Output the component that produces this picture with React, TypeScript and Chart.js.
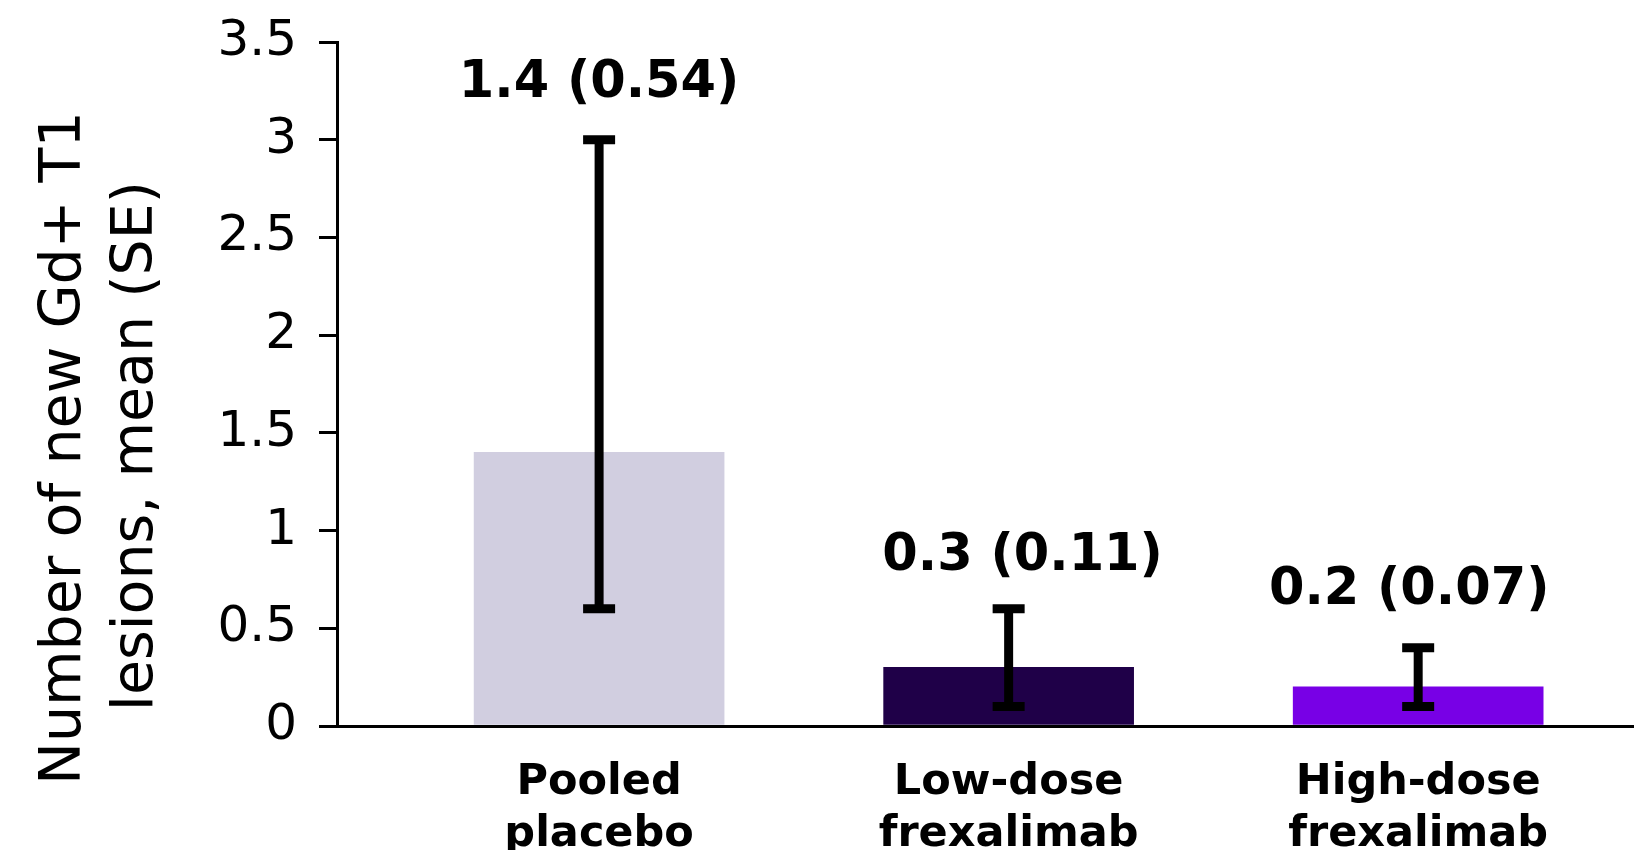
import React, { useEffect, useRef } from "react";
import { Chart, registerables } from "chart.js";

Chart.register(...registerables);

const categories: string[][] = [
  ["Pooled", "placebo"],
  ["Low-dose", "frexalimab"],
  ["High-dose", "frexalimab"],
];
const means = [1.4, 0.3, 0.2];
const ses = [0.54, 0.11, 0.07];
const errLow = [0.6, 0.1, 0.1];
const errHigh = [3.0, 0.6, 0.4];
const barColors = ["#D1CEE0", "#1F0048", "#7800E6"];
const yTitleLines = ["Number of new Gd+ T1", "lesions, mean (SE)"];
const yMin = 0;
const yMax = 3.5;
const yStep = 0.5;

// small hand nudges for the value labels (pixels), as in the original slide
const labelNudgeX = [0, 14, -9];
const labelNudgeY = [1, 5, 0];

const FONT = "'DejaVu Sans', Verdana, sans-serif";

const errorBarPlugin = {
  id: "errorBars",
  afterDatasetsDraw(chart: any) {
    const { ctx, scales } = chart;
    const xs = scales.x;
    const ys = scales.y;
    ctx.save();
    means.forEach((m, i) => {
      const cx = xs.getPixelForValue(i);
      const yHi = ys.getPixelForValue(errHigh[i]);
      const yLo = ys.getPixelForValue(errLow[i]);
      ctx.strokeStyle = "#000";
      ctx.lineCap = "butt";
      ctx.lineWidth = 9;
      ctx.beginPath();
      ctx.moveTo(cx, yHi);
      ctx.lineTo(cx, yLo);
      ctx.stroke();
      ctx.lineWidth = 9;
      ctx.beginPath();
      ctx.moveTo(cx - 16, yHi);
      ctx.lineTo(cx + 16, yHi);
      ctx.moveTo(cx - 16, yLo);
      ctx.lineTo(cx + 16, yLo);
      ctx.stroke();
      ctx.fillStyle = "#000";
      ctx.font = `bold 51px ${FONT}`;
      ctx.textAlign = "center";
      ctx.textBaseline = "middle";
      ctx.fillText(`${m} (${ses[i]})`, cx + labelNudgeX[i], yHi - 57 + labelNudgeY[i]);
    });
    ctx.restore();
  },
};

const yTitlePlugin = {
  id: "yTitle",
  afterDraw(chart: any) {
    const { ctx } = chart;
    ctx.save();
    ctx.fillStyle = "#000";
    ctx.font = `57px ${FONT}`;
    ctx.textAlign = "center";
    ctx.textBaseline = "alphabetic";
    const baselines = [80, 152];
    const centersY = [448, 446];
    yTitleLines.forEach((line, i) => {
      ctx.save();
      ctx.translate(baselines[i], centersY[i]);
      ctx.rotate(-Math.PI / 2);
      ctx.fillText(line, 0, 0);
      ctx.restore();
    });
    ctx.restore();
  },
};

export default function App() {
  const ref = useRef<HTMLCanvasElement | null>(null);
  useEffect(() => {
    document.body.style.margin = "0";
    if (!ref.current) return;
    const chart = new Chart(ref.current, {
      type: "bar",
      data: {
        datasets: [
          {
            data: means.map((v, i) => ({ x: i, y: v })),
            backgroundColor: barColors,
            borderWidth: 0,
            barThickness: 250,
          } as any,
        ],
      },
      options: {
        animation: false,
        responsive: false,
        devicePixelRatio: 1,
        layout: { padding: { top: 42, left: 0, right: 0, bottom: 0 } },
        plugins: {
          legend: { display: false },
          tooltip: { enabled: false },
        },
        scales: {
          x: {
            type: "linear",
            offset: false,
            min: -0.64,
            max: 2.527,
            afterBuildTicks: (scale: any) => {
              scale.ticks = categories.map((_, i) => ({ value: i }));
            },
            afterFit: (scale: any) => {
              scale.height = 124;
              scale.paddingLeft = 0;
              scale.paddingRight = 0;
            },
            grid: { display: false, drawTicks: false, offset: false },
            border: { display: true, color: "#000", width: 3 },
            ticks: {
              color: "#000",
              font: { family: FONT, size: 43, weight: "bold", lineHeight: 1.2 },
              padding: 31,
              maxRotation: 0,
              autoSkip: false,
              callback: (v: any) => categories[v] as any,
            },
          },
          y: {
            min: yMin,
            max: yMax,
            afterFit: (scale: any) => {
              scale.width = 337;
              scale.paddingTop = 0;
              scale.paddingBottom = 0;
            },
            grid: {
              display: true,
              drawOnChartArea: false,
              drawTicks: true,
              tickLength: 18,
              color: "#000",
              lineWidth: 3,
            },
            border: { display: true, color: "#000", width: 3 },
            ticks: {
              stepSize: yStep,
              color: "#000",
              padding: 22,
              font: { family: FONT, size: 50 },
              callback: (v: any) => String(Number(v)),
            },
          },
        },
      },
      plugins: [errorBarPlugin, yTitlePlugin],
    });
    return () => chart.destroy();
  }, []);
  return (
    <div style={{ width: 1634, height: 850 }}>
      <canvas ref={ref} width={1634} height={850} style={{ display: "block" }} />
    </div>
  );
}
